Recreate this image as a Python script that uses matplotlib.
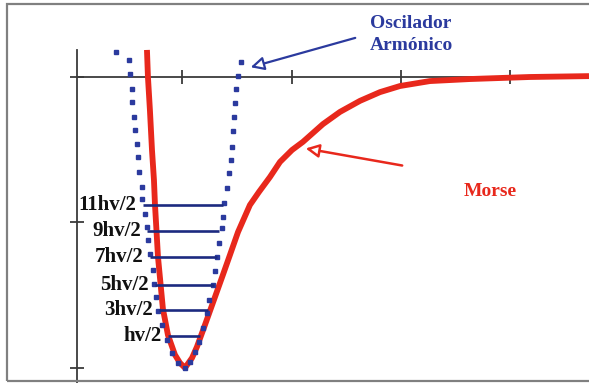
import matplotlib
matplotlib.use("Agg")
import matplotlib.pyplot as plt
from matplotlib.patches import Rectangle

# ---------------- data (r in tick units, V in units of well depth) ----------------
morse_r = [0.677, 0.686, 0.704, 0.723, 0.741, 0.750, 0.778, 0.823, 0.869, 0.933, 0.979, 1.025,
           1.089, 1.134, 1.208, 1.290, 1.372, 1.436, 1.510, 1.619, 1.702, 1.802, 1.894, 2.004,
           2.104, 2.287, 2.443, 2.626, 2.809, 2.992, 3.266, 3.632, 4.181, 4.721]
morse_V = [0.093, 0.000, -0.113, -0.251, -0.354, -0.436, -0.619, -0.797, -0.887, -0.955, -0.983, -1.000,
           -0.966, -0.928, -0.852, -0.766, -0.680, -0.612, -0.533, -0.440, -0.395, -0.344, -0.292, -0.251,
           -0.223, -0.162, -0.120, -0.082, -0.052, -0.031, -0.014, -0.007, 0.000, 0.003]

harm_r = [0.393, 0.512, 0.521, 0.540, 0.540, 0.558, 0.567, 0.586, 0.595, 0.604, 0.631, 0.631, 0.659,
          0.677, 0.686, 0.704, 0.732, 0.741, 0.759, 0.778, 0.814, 0.860, 0.906, 0.961, 1.025,
          1.070, 1.116, 1.153, 1.189, 1.226, 1.244, 1.281, 1.299, 1.317, 1.336, 1.363, 1.372,
          1.382, 1.409, 1.427, 1.446, 1.455, 1.464, 1.473, 1.482, 1.491, 1.510, 1.537]
harm_V = [0.086, 0.058, 0.010, -0.041, -0.086, -0.137, -0.182, -0.230, -0.275, -0.326, -0.378, -0.419, -0.471,
          -0.515, -0.560, -0.608, -0.663, -0.711, -0.756, -0.804, -0.852, -0.904, -0.948, -0.983, -1.000,
          -0.979, -0.945, -0.911, -0.863, -0.811, -0.766, -0.715, -0.667, -0.619, -0.570, -0.519, -0.481,
          -0.433, -0.381, -0.330, -0.285, -0.241, -0.186, -0.137, -0.089, -0.041, 0.003, 0.052]

level_labels = ["11hv/2", "9hv/2", "7hv/2", "5hv/2", "3hv/2", "hv/2"]
level_V = [-0.440, -0.529, -0.619, -0.715, -0.801, -0.890]
level_r_start = [0.640, 0.677, 0.704, 0.750, 0.787, 0.869]
level_r_end = [1.372, 1.336, 1.317, 1.290, 1.235, 1.162]

x_ticks = [1, 2, 3, 4]
y_ticks = [0, -0.5, -1]

harm_label = "Oscilador\nArmónico"
morse_label = "Morse"

# ---------------- styling ----------------
RED = "#e8281c"
BLUE = "#2b3a9e"
NAVY = "#1c2a80"
SERIF = ["Liberation Serif", "DejaVu Serif"]

fig = plt.figure(figsize=(5.89, 3.83), dpi=100)
fig.patch.set_facecolor("white")

# outer frame
fig.patches.append(Rectangle((7 / 589, 1 - 381 / 383), 1.0, (381 - 4) / 383,
                             transform=fig.transFigure, fill=False,
                             edgecolor="#808080", linewidth=1.6, zorder=0))

ax = fig.add_axes([77 / 589, 0.0, 1 - 77 / 589, 1 - 50 / 383])
ax.set_facecolor("none")
ax.set_xlim(0.037, 4.721)
ax.set_ylim(-1.052, 0.0928)

for s in ["top", "right"]:
    ax.spines[s].set_visible(False)
ax.spines["bottom"].set_position(("data", 0))
ax.spines["left"].set_position(("data", 0.037))
for s in ["bottom", "left"]:
    ax.spines[s].set_color("#3a3a3a")
    ax.spines[s].set_linewidth(1.3)
ax.set_xticks(x_ticks)
ax.set_yticks(y_ticks)
ax.set_xticklabels([])
ax.set_yticklabels([])
ax.tick_params(direction="inout", length=10, width=1.3, color="#3a3a3a")

# Morse curve
ax.plot(morse_r, morse_V, color=RED, lw=4.2, solid_capstyle="butt",
        solid_joinstyle="round", zorder=3, clip_on=False)

# harmonic oscillator dots
ax.plot(harm_r, harm_V, ls="none", marker="s", ms=3.0, color=BLUE,
        mec=BLUE, zorder=4, clip_on=False)

# energy levels
for lab, v, r0, r1 in zip(level_labels, level_V, level_r_start, level_r_end):
    ax.plot([r0, r1], [v, v], color=NAVY, lw=1.9, zorder=5, solid_capstyle="butt")
    ax.annotate(lab, xy=(r0, v), xytext=(-4.5, 0), textcoords="offset points",
                ha="right", va="center", fontsize=15, fontweight="bold",
                family=SERIF, color="#111111", zorder=6)

# annotations
ax.annotate("", xy=(1.601, 0.031), xytext=(2.607, 0.137),
            arrowprops=dict(arrowstyle="-|>,head_length=0.8,head_width=0.4",
                            color=BLUE, lw=1.6, fc="white"),
            annotation_clip=False)
ax.text(2.72, 0.146, harm_label, ha="left", va="center", fontsize=14,
        fontweight="bold", family=SERIF, color=BLUE, linespacing=1.45,
        clip_on=False)

ax.annotate("", xy=(2.104, -0.244), xytext=(3.037, -0.306),
            arrowprops=dict(arrowstyle="-|>,head_length=0.8,head_width=0.4",
                            color=RED, lw=1.8, fc="white"),
            annotation_clip=False)
ax.text(3.814, -0.395, morse_label, ha="center", va="center", fontsize=14,
        fontweight="bold", family=SERIF, color=RED)

fig.savefig("out.png", dpi=100)
